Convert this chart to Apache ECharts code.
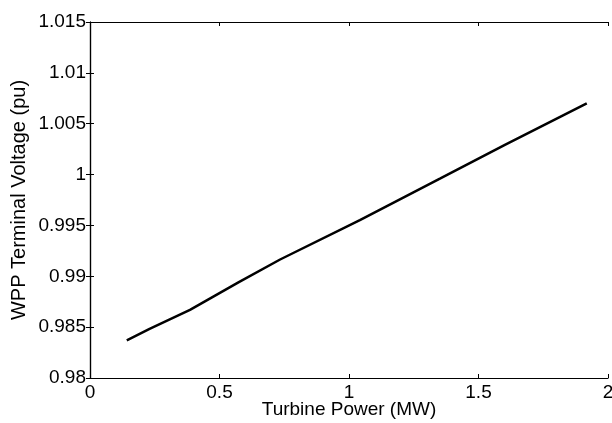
<!DOCTYPE html>
<html>
<head>
<meta charset="utf-8">
<script src="https://cdn.jsdelivr.net/npm/echarts@6/dist/echarts.min.js"></script>
<style>
html,body{margin:0;padding:0;background:#fff;}
#chart{width:612px;height:423px;}
</style>
</head>
<body>
<div id="chart"></div>
<script>
var powerMW = [0.142, 0.23, 0.386, 0.573, 0.734, 1.042, 1.351, 1.6, 1.918];
var voltagePU = [0.98370, 0.98482, 0.98669, 0.98940, 0.99165, 0.99553, 0.99960, 1.00290, 1.00700];
var xTicks = [0, 0.5, 1, 1.5, 2];
var yTicks = [0.98, 0.985, 0.99, 0.995, 1, 1.005, 1.01, 1.015];

var fontFam = '"Liberation Sans", Arial, sans-serif';
var data = powerMW.map(function(x, i){ return [x, voltagePU[i]]; });
function fmt(v){ return String(+(+v).toFixed(3)); }

var chart = echarts.init(document.getElementById('chart'), null, {renderer:'canvas'});
var axisLine = {show:true, lineStyle:{color:'#000', width:1.2}};
chart.setOption({
  animation:false,
  backgroundColor:'#fff',
  grid:{left:90, right:4, top:22, bottom:45, containLabel:false, outerBoundsMode:'none'},
  xAxis:[{
    type:'value', min:xTicks[0], max:xTicks[xTicks.length-1], interval:0.5,
    axisLine:axisLine,
    axisTick:{show:true, inside:true, length:4, lineStyle:{color:'#000'}},
    splitLine:{show:false},
    axisLabel:{color:'#000', fontSize:19, fontFamily:fontFam, margin:5, formatter:fmt},
    name:'Turbine Power (MW)', nameLocation:'middle', nameGap:22, nameMoveOverlap:false,
    nameTextStyle:{color:'#000', fontSize:19, fontFamily:fontFam}
  },{
    type:'value', position:'top', min:xTicks[0], max:xTicks[xTicks.length-1], interval:0.5,
    axisLine:axisLine,
    axisTick:{show:true, inside:true, length:4, lineStyle:{color:'#000'}},
    splitLine:{show:false}, axisLabel:{show:false}
  }],
  yAxis:[{
    type:'value', min:yTicks[0], max:yTicks[yTicks.length-1], interval:0.005,
    axisLine:axisLine,
    axisTick:{show:true, inside:true, length:4, lineStyle:{color:'#000'}},
    splitLine:{show:false},
    axisLabel:{color:'#000', fontSize:19, fontFamily:fontFam, margin:4, formatter:fmt},
    name:'WPP Terminal Voltage (pu)', nameLocation:'middle', nameGap:61, nameMoveOverlap:false,
    nameTextStyle:{color:'#000', fontSize:20, fontFamily:fontFam}
  },{
    type:'value', position:'right', min:yTicks[0], max:yTicks[yTicks.length-1], interval:0.005,
    axisLine:axisLine,
    axisTick:{show:true, inside:true, length:4, lineStyle:{color:'#000'}},
    splitLine:{show:false}, axisLabel:{show:false}
  }],
  series:[{
    type:'line', data:data, showSymbol:false, symbol:'none',
    lineStyle:{color:'#000', width:2.5}, smooth:false
  }]
});
</script>
</body>
</html>
